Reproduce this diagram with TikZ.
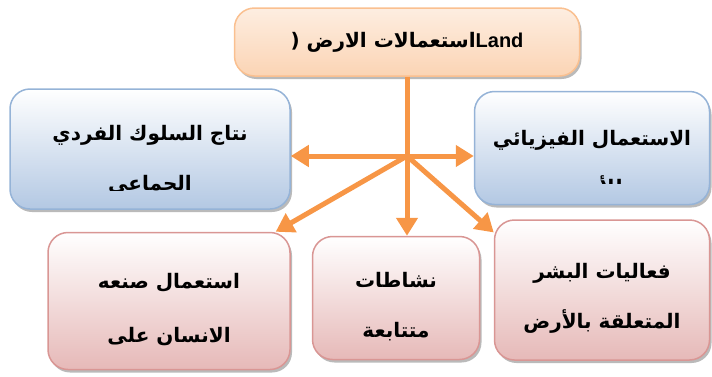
\documentclass[tikz,border=0pt]{standalone}
\usepackage{fontspec}
\setmainfont{Liberation Sans}
\newfontfamily\arabicfont[Script=Arabic]{DejaVu Sans}
\TeXXeTstate=1
\usepackage{trimclip}
\usetikzlibrary{arrows.meta,shadows}
\definecolor{arroworange}{HTML}{F79646}
\definecolor{blueborder}{HTML}{95B3D7}
\definecolor{bluebottom}{HTML}{B3C8E3}
\definecolor{pinkborder}{HTML}{D99694}
\definecolor{pinkbottom}{HTML}{E6B9B8}
\definecolor{peachborder}{HTML}{FAC090}
\definecolor{peachbottom}{HTML}{FBD4B4}
\newcommand{\ar}[1]{\beginR #1\endR}
\newcommand{\topgap}{\rule{0pt}{32pt}}

\begin{document}
\begin{tikzpicture}[x=1pt,y=-1pt,
    box/.style={rectangle, rounded corners=20pt, line width=1.5pt, align=center, inner sep=0pt,
        font=\arabicfont\bfseries\fontsize{20}{24}\selectfont,
        drop shadow={shadow xshift=2pt, shadow yshift=-3pt, fill=black!45, opacity=.6}},
    boxblue/.style={box, draw=blueborder, top color=white, bottom color=bluebottom},
    boxpink/.style={box, draw=pinkborder, top color=white, bottom color=pinkbottom},
    boxpeach/.style={box, draw=peachborder, top color=white!60!peachbottom, bottom color=peachbottom},
    link/.style={arroworange, line width=5pt, -{Triangle[width=21pt,length=18pt]}}]
    \useasboundingbox (0,0) rectangle (712,376);

    % boxes
    \node[boxpeach, minimum width=345pt, minimum height=68pt] (landuse) at (407,42)
        {( \ar{استعمالات الارض}{\setmainfont{Liberation Sans}\rmfamily\bfseries\fontsize{20}{22}\selectfont Land}};
    \node[boxblue, minimum width=280pt, minimum height=120pt] (behav) at (150,149)
        {\topgap\ar{نتاج السلوك الفردي}\\[26pt]\clipbox{0pt \depth{} 0pt 0pt}{\ar{الجماعي}}};
    \node[boxblue, minimum width=235pt, minimum height=113pt] (physical) at (592,148)
        {\topgap\ar{الاستعمال الفيزيائي}\\[14pt]\clipbox{0pt 16pt 0pt 0pt}{\ar{للأرض}}};
    \node[boxpink, minimum width=242pt, minimum height=137pt] (artificial) at (169,301)
        {\topgap\ar{استعمال صنعه}\\[30pt]\ar{الانسان على}};
    \node[boxpink, minimum width=167pt, minimum height=123pt] (activity) at (396,298)
        {\topgap\ar{نشاطات}\\[26pt]\ar{متتابعة}};
    \node[boxpink, minimum width=215pt, minimum height=140pt] (human) at (602,290)
        {\topgap\ar{فعاليات البشر}\\[26pt]\ar{المتعلقة بالأرض}};

    % connectors
    \coordinate (hub) at (407,156);
    \draw[arroworange, line width=5pt] (landuse.south) -- (hub);
    \draw[link] (hub) -- (hub -| behav.east);
    \draw[link] (hub) -- (hub -| physical.west);
    \draw[link] (hub) -- (hub |- activity.north);
    \draw[link] (hub) -- (artificial.33);
    \draw[link] (hub) -- (human.152);
\end{tikzpicture}
\end{document}
